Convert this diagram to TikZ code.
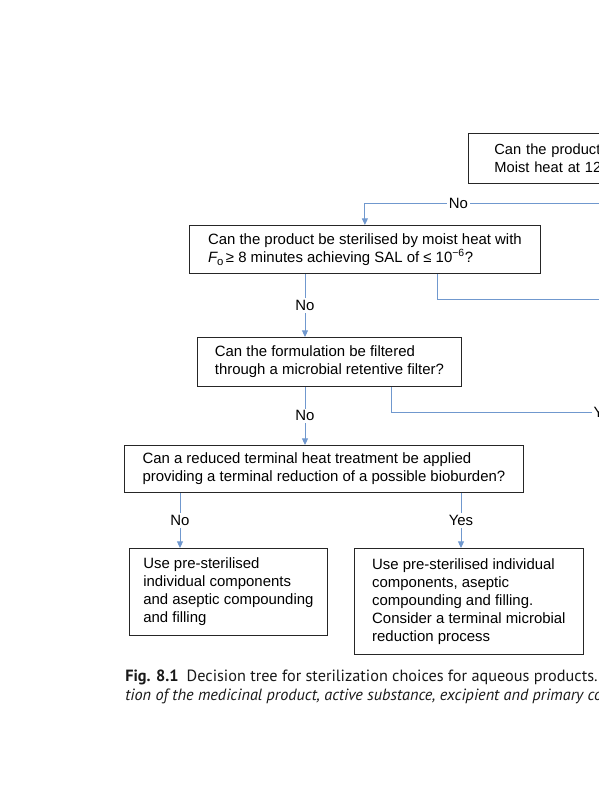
\documentclass[tikz,border=0pt]{standalone}
\usepackage{fontspec}
\setmainfont{Liberation Sans}
\newfontfamily\capfont{PT Sans}
\usetikzlibrary{arrows.meta}

\definecolor{flowblue}{RGB}{112,152,206}
\tikzset{
  qbox/.style={draw=black!85, line width=0.6pt, anchor=north west, align=left,
    inner sep=0pt, font=\fontsize{11.2}{13.5}\selectfont},
  flow/.style={draw=flowblue, line width=0.75pt, -{Triangle[width=4.5pt,length=5pt]}},
  link/.style={draw=flowblue, line width=0.75pt},
  lbl/.style={fill=white, inner sep=1.5pt, font=\fontsize{11.2}{13.5}\selectfont},
  captext/.style={anchor=base west, inner sep=0pt, text=black!90,
    font=\capfont\fontsize{12.2}{14.25}\selectfont},
}
\newcommand{\Fnought}{{\itshape F}\raisebox{-0.35ex}{\fontsize{8.5}{9}\selectfont o}}

\begin{document}
\begin{tikzpicture}[x=0.75pt, y=-0.75pt]
\useasboundingbox (0,0) rectangle (599,800);
\clip (0,0) rectangle (599,800);

% questions
\node[qbox, inner xsep=19.5pt, text width=200pt, minimum height=37.5pt,
  font=\fontsize{11}{13.5}\selectfont] (q0) at (468,133)
  {Can the product\\Moist heat at 12};
\node[qbox, minimum width=263.25pt, minimum height=36pt] (q1) at (189,225)
  {Can the product be sterilised by moist heat with\\
   \Fnought\,\char"2265\ 8 minutes achieving SAL of \char"2264\ 10\textsuperscript{\char"2212 6}?};
\node[qbox, minimum width=198pt, minimum height=36.75pt] (q2) at (197,337)
  {Can the formulation be filtered\\through a microbial retentive filter?};
\node[qbox, minimum width=299.25pt, minimum height=35.25pt] (q3) at (124,445)
  {Can a reduced terminal heat treatment be applied\\
   providing a terminal reduction of a possible bioburden?};

% answers
\node[qbox, minimum width=148.5pt, minimum height=65.25pt] (a1) at (129,548)
  {Use pre-sterilised\\individual components\\and aseptic compounding\\and filling};
\node[qbox, minimum width=171.75pt, minimum height=79.5pt] (a2) at (354,548)
  {Use pre-sterilised individual\\components, aseptic\\compounding and filling.\\
   Consider a terminal microbial\\reduction process};

% columns of the connectors
\coordinate (q0no) at (640,0);
\coordinate (midx) at (305,0);
\coordinate (q1yes) at (437,0);
\coordinate (q2yes) at (391,0);
\coordinate (q3no) at (180,0);
\coordinate (q3yes) at (461,0);
\coordinate (off1) at (640,299);
\node[lbl, anchor=west, inner sep=1pt] (y2) at (592,412) {Yes};

\draw[flow] (q0.south -| q0no) -- ++(0,20) -| node[lbl, pos=0.33]{No} (q1.north);
\draw[flow] (q1.south -| midx) -- node[lbl]{No} (q2.north -| midx);
\draw[link] (q1.south -| q1yes) |- (off1);
\draw[flow] (q2.south -| midx) -- node[lbl]{No} (q3.north -| midx);
\draw[link] (q2.south -| q2yes) |- (y2.west);
\draw[flow] (q3.south -| q3no) -- node[lbl]{No} (a1.north -| q3no);
\draw[flow] (q3.south -| q3yes) -- node[lbl]{Yes} (a2.north -| q3yes);

% caption
\node[captext] (cap1) at (125,681)
  {\textbf{Fig. 8.1}\enspace Decision tree for sterilization choices for aqueous products.};
\node[captext] (cap2) at (125,700)
  {\textit{tion of the medicinal product, active substance, excipient and primary co}};
\end{tikzpicture}
\end{document}
